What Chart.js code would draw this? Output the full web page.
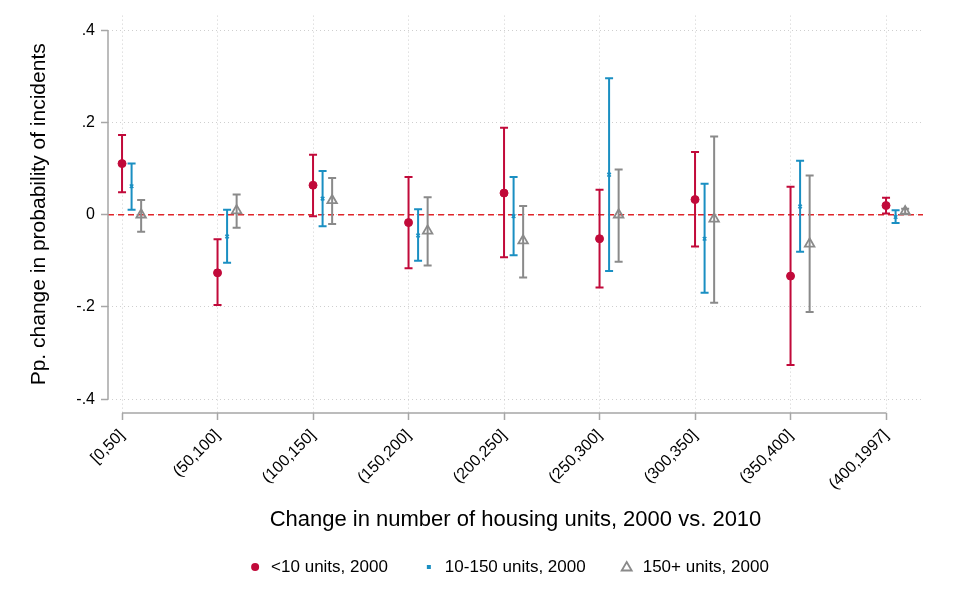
<!DOCTYPE html>
<html lang="en">
<head>
  <meta charset="UTF-8">
  <title>Pp. change in probability of incidents</title>
  <script src="https://cdn.jsdelivr.net/npm/chart.js@4.4.0/dist/chart.umd.min.js"></script>
  <style>
    * { margin: 0; padding: 0; box-sizing: border-box; }
    body { background: #fff; }
    .wrap { position: relative; width: 976px; height: 596px; }
  </style>
</head>
<body>
  <div class="wrap"><canvas id="chart"></canvas></div>

  <script>
    // Dados
    const categorias = ['[0,50]', '(50,100]', '(100,150]', '(150,200]', '(200,250]',
                        '(250,300]', '(300,350]', '(350,400]', '(400,1997]'];
    const yTicks = [-0.4, -0.2, 0, 0.2, 0.4];

    const seriesNomes = ['<10 units, 2000', '10-150 units, 2000', '150+ units, 2000'];

    // <10 units
    const pequenoEst = [0.111, -0.126, 0.064, -0.017, 0.047, -0.052, 0.033, -0.133, 0.020];
    const pequenoLo  = [0.049, -0.196, -0.003, -0.116, -0.092, -0.158, -0.069, -0.326, 0.003];
    const pequenoHi  = [0.173, -0.053, 0.130, 0.082, 0.189, 0.054, 0.136, 0.061, 0.037];

    // 10-150 units
    const medioEst = [0.062, -0.047, 0.035, -0.045, -0.003, 0.087, -0.052, 0.018, -0.005];
    const medioLo  = [0.011, -0.104, -0.025, -0.100, -0.088, -0.122, -0.169, -0.080, -0.018];
    const medioHi  = [0.111, 0.011, 0.095, 0.012, 0.082, 0.296, 0.067, 0.117, 0.010];

    // 150+ units
    const grandeEst = [0.000, 0.009, 0.031, -0.035, -0.056, 0.000, -0.009, -0.063, 0.007];
    const grandeLo  = [-0.037, -0.028, -0.020, -0.110, -0.136, -0.102, -0.191, -0.211, 0.002];
    const grandeHi  = [0.032, 0.044, 0.080, 0.038, 0.019, 0.098, 0.170, 0.085, 0.013];

    const fonte = "'Liberation Sans', Arial, Helvetica, sans-serif";
    const vermelho = '#c10a3a';
    const azul = '#1a8fc2';
    const cinza = '#8a8a8a';

    function pontos(est, desloc) {
      return est.map((v, i) => ({ x: i + desloc, y: v }));
    }

    // Barras de erro, linha do zero e eixos em estilo Stata
    const errorBars = {
      id: 'errorBars',
      beforeDatasetsDraw(chart) {
        const { ctx, chartArea, scales: { x, y } } = chart;
        ctx.save();

        // linha tracejada em zero
        ctx.strokeStyle = '#e0262b';
        ctx.lineWidth = 1.5;
        ctx.setLineDash([6, 4]);
        const y0 = y.getPixelForValue(0);
        ctx.beginPath();
        ctx.moveTo(chartArea.left, y0);
        ctx.lineTo(chartArea.right, y0);
        ctx.stroke();
        ctx.setLineDash([]);

        chart.data.datasets.forEach((ds) => {
          ctx.strokeStyle = ds.borderColor;
          ctx.lineWidth = 2;
          ds.data.forEach((p, i) => {
            const px = x.getPixelForValue(p.x);
            const pLo = y.getPixelForValue(ds.errLo[i]);
            const pHi = y.getPixelForValue(ds.errHi[i]);
            ctx.beginPath();
            ctx.moveTo(px, pLo);
            ctx.lineTo(px, pHi);
            ctx.moveTo(px - 4, pLo);
            ctx.lineTo(px + 4, pLo);
            ctx.moveTo(px - 4, pHi);
            ctx.lineTo(px + 4, pHi);
            ctx.stroke();
          });
        });

        // eixos só no intervalo dos dados
        ctx.strokeStyle = '#a6a6a6';
        ctx.lineWidth = 1.5;
        ctx.beginPath();
        ctx.moveTo(chartArea.left, y.getPixelForValue(yTicks[yTicks.length - 1]));
        ctx.lineTo(chartArea.left, y.getPixelForValue(yTicks[0]));
        ctx.moveTo(x.getPixelForValue(0), chartArea.bottom);
        ctx.lineTo(x.getPixelForValue(categorias.length - 1), chartArea.bottom);
        ctx.stroke();
        ctx.restore();
      }
    };

    // Legenda desenhada embaixo
    const legendaCustom = {
      id: 'legendaCustom',
      afterDraw(chart) {
        const { ctx, chartArea } = chart;
        ctx.save();
        ctx.font = '17px ' + fonte;
        ctx.textBaseline = 'middle';
        const gap = 41, marcador = 16;
        const larguras = seriesNomes.map(t => ctx.measureText(t).width);
        const total = 4 + marcador * 3 + larguras.reduce((a, b) => a + b, 0) + gap * 2;
        let mx = (chartArea.left + chartArea.right) / 2 - 5.5 - total / 2 + 4;
        const ly = 567;
        const cores = [vermelho, azul, cinza];
        seriesNomes.forEach((t, i) => {
          ctx.fillStyle = cores[i];
          ctx.strokeStyle = cores[i];
          if (i === 0) {
            ctx.beginPath();
            ctx.arc(mx, ly, 4, 0, Math.PI * 2);
            ctx.fill();
          } else if (i === 1) {
            ctx.fillRect(mx - 2, ly - 2, 4, 4);
          } else {
            ctx.lineWidth = 1.8;
            ctx.beginPath();
            ctx.moveTo(mx, ly - 5);
            ctx.lineTo(mx + 5, ly + 3.5);
            ctx.lineTo(mx - 5, ly + 3.5);
            ctx.closePath();
            ctx.stroke();
          }
          ctx.fillStyle = '#000';
          ctx.fillText(t, mx + marcador, ly);
          mx = mx + marcador + larguras[i] + gap;
        });
        ctx.restore();
      }
    };

    new Chart(document.getElementById('chart'), {
      type: 'scatter',
      data: {
        datasets: [
          {
            label: seriesNomes[0],
            data: pontos(pequenoEst, 0),
            errLo: pequenoLo, errHi: pequenoHi,
            pointStyle: 'circle', pointRadius: 4,
            backgroundColor: vermelho, borderColor: vermelho, borderWidth: 1,
          },
          {
            label: seriesNomes[1],
            data: pontos(medioEst, 0.1),
            errLo: medioLo, errHi: medioHi,
            pointStyle: 'crossRot', pointRadius: 2.5,
            backgroundColor: azul, borderColor: azul, borderWidth: 1.5,
          },
          {
            label: seriesNomes[2],
            data: pontos(grandeEst, 0.2),
            errLo: grandeLo, errHi: grandeHi,
            pointStyle: 'triangle', pointRadius: 5.5,
            backgroundColor: 'rgba(255,255,255,0)', borderColor: cinza, borderWidth: 1.8,
          },
        ]
      },
      options: {
        responsive: true,
        maintainAspectRatio: false,
        animation: false,
        layout: { padding: { top: 10, right: 53, bottom: 58, left: 0 } },
        plugins: {
          legend: { display: false },
          tooltip: { enabled: false },
        },
        scales: {
          x: {
            type: 'linear',
            min: -0.147,
            max: 8.387,
            afterBuildTicks: (s) => { s.ticks = categorias.map((c, i) => ({ value: i })); },
            afterFit: (s) => { s.height = 125; },
            ticks: {
              autoSkip: false,
              minRotation: 45,
              maxRotation: 45,
              padding: 6,
              color: '#000',
              font: { family: fonte, size: 16 },
              callback: (v) => categorias[Math.round(v)],
            },
            grid: {
              color: '#cfcfcf',
              lineWidth: 1,
              tickColor: '#a6a6a6',
              tickLength: 7,
              tickWidth: 1.5,
              tickBorderDash: [],
            },
            border: { display: false, dash: [1, 3] },
            title: {
              display: true,
              text: 'Change in number of housing units, 2000 vs. 2010',
              color: '#000',
              font: { family: fonte, size: 22 },
              padding: { top: 0, bottom: 5 },
            },
          },
          y: {
            min: -0.43,
            max: 0.432,
            afterBuildTicks: (s) => { s.ticks = yTicks.map(v => ({ value: v })); },
            afterFit: (s) => { s.width = 108; },
            ticks: {
              padding: 6,
              color: '#000',
              font: { family: fonte, size: 16 },
              callback: (v) => {
                if (Math.abs(v) < 1e-9) return '0';
                return (v < 0 ? '-' : '') + Math.abs(v).toFixed(1).replace(/^0/, '');
              },
            },
            grid: {
              color: '#cfcfcf',
              lineWidth: 1,
              tickColor: '#a6a6a6',
              tickLength: 7,
              tickWidth: 1.5,
              tickBorderDash: [],
            },
            border: { display: false, dash: [1, 3] },
            title: {
              display: true,
              text: 'Pp. change in probability of incidents',
              color: '#000',
              font: { family: fonte, size: 21 },
              padding: { top: 27, bottom: 0 },
            },
          },
        },
      },
      plugins: [errorBars, legendaCustom],
    });
  </script>
</body>
</html>
